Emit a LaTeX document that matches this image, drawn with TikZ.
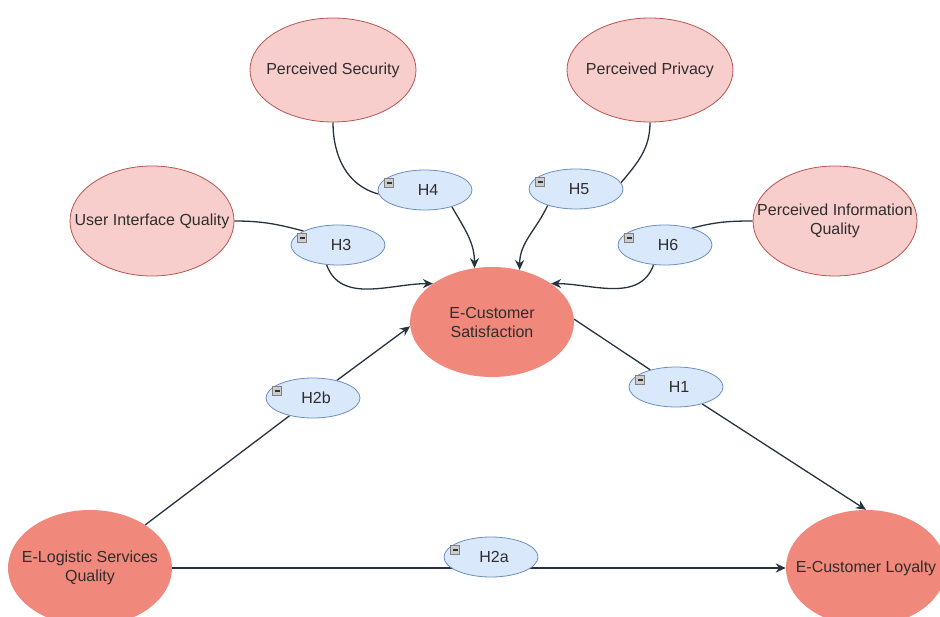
\documentclass[tikz,border=0pt]{standalone}
\usepackage{fontspec}
\setmainfont{Liberation Sans}
\usetikzlibrary{shapes.geometric,arrows.meta,calc}
\definecolor{outerfill}{HTML}{F8CECC}
\definecolor{outerline}{HTML}{B85450}
\definecolor{corefill}{HTML}{F0897B}
\definecolor{hypfill}{HTML}{DAE8FC}
\definecolor{hypline}{HTML}{6C8EBF}
\definecolor{edgecol}{HTML}{26323F}
\definecolor{txtcol}{HTML}{2E2E2E}
\pgfdeclarelayer{background}
\pgfsetlayers{background,main}
\begin{document}
\begin{tikzpicture}[x=1pt,y=1pt,
  every node/.style={font=\fontsize{16}{19}\selectfont, text=txtcol, align=center},
  % the ellipse keeps its given size; the caption sits at its centre
  caption/.style={label={[align=center, inner sep=0pt]center:#1}},
  construct/.style={ellipse, draw=outerline, line width=0.8pt, fill=outerfill, inner sep=0pt,
    minimum width=164pt, minimum height=110pt, caption=#1},
  core/.style={ellipse, draw=none, fill=corefill, inner sep=0pt,
    minimum width=164pt, minimum height=112pt, caption=#1},
  hyp/.style={ellipse, draw=hypline, line width=0.8pt, fill=hypfill, inner sep=0pt,
    minimum width=94pt, minimum height=40pt, caption={\hspace*{6pt}#1}},
  minusicon/.style={draw=gray, fill=gray!40, line width=0.5pt, minimum size=9pt, inner sep=0pt,
    path picture={\draw[line width=1.2pt, black!80]
      ([xshift=2pt]path picture bounding box.west) -- ([xshift=-2pt]path picture bounding box.east);}},
  link/.style={draw=edgecol, line width=1.3pt},
  arr/.style={link, -{Stealth[length=10pt,width=9pt]}}]

\clip (0,0) rectangle (940,616);

% constructs
\node[construct={Perceived Security}, minimum width=166pt, minimum height=104pt] (sec)  at (333,546) {};
\node[construct={Perceived Privacy}, minimum width=166pt, minimum height=104pt] (priv) at (650,546) {};
\node[construct={User Interface Quality}] (ui)  at (152,395) {};
\node[construct={Perceived Information\\Quality}] (piq) at (835,395) {};
\node[core={E-Customer\\Satisfaction}, minimum height=110pt] (sat)  at (492,294) {};
\node[core={E-Logistic Services\\Quality}, minimum height=116pt] (elog) at (90,48) {};
\node[core={E-Customer Loyalty}, minimum width=160pt, minimum height=116pt] (loy) at (866,48) {};

% hypotheses
\node[hyp=H4]  (h4)  at (425,426) {};
\node[hyp=H5]  (h5)  at (576,427) {};
\node[hyp=H3]  (h3)  at (338,371) {};
\node[hyp=H6]  (h6)  at (665,371) {};
\node[hyp=H2b] (h2b) at (313,218) {};
\node[hyp=H1]  (h1)  at (676,229) {};
\node[hyp=H2a] (h2a) at (491,59)  {};

\foreach \h in {h1,h2a,h2b,h3,h4,h5,h6}
  \node[minusicon] (\h-icon) at ([shift={(-36,7)}]\h.center) {};

% connectors
\begin{pgfonlayer}{background}
  \draw[link] (sec.south) to[out=-90,in=165] (h4.185);
  \draw[arr]  (h4.-32) to[out=-60,in=90] (sat.108);
  \draw[link] (priv.south) to[out=-90,in=50] (h5.8);
  \draw[arr]  (h5.-150) to[out=-115,in=90] (sat.62);
  \draw[link] (ui.east) to[out=0,in=165] (h3.158);
  \draw[arr]  (h3.-120) to[out=-70,in=180] (sat.147);
  \draw[link] (piq.west) to[out=180,in=15] (h6.32);
  \draw[arr]  (h6.-120) to[out=-110,in=0] (sat.33);

  \draw[link] (sat.2) -- (h1);
  \draw[arr]  (h1) -- (loy.north);

  \draw[link] (elog.38) -- (h2b);
  \draw[arr]  (h2b) -- (sat.183);

  \draw[link] (elog.east) -- (h2a.center |- elog.east);
  \draw[arr]  (h2a.center |- elog.east) -- (loy.west);
\end{pgfonlayer}
\end{tikzpicture}
\end{document}
